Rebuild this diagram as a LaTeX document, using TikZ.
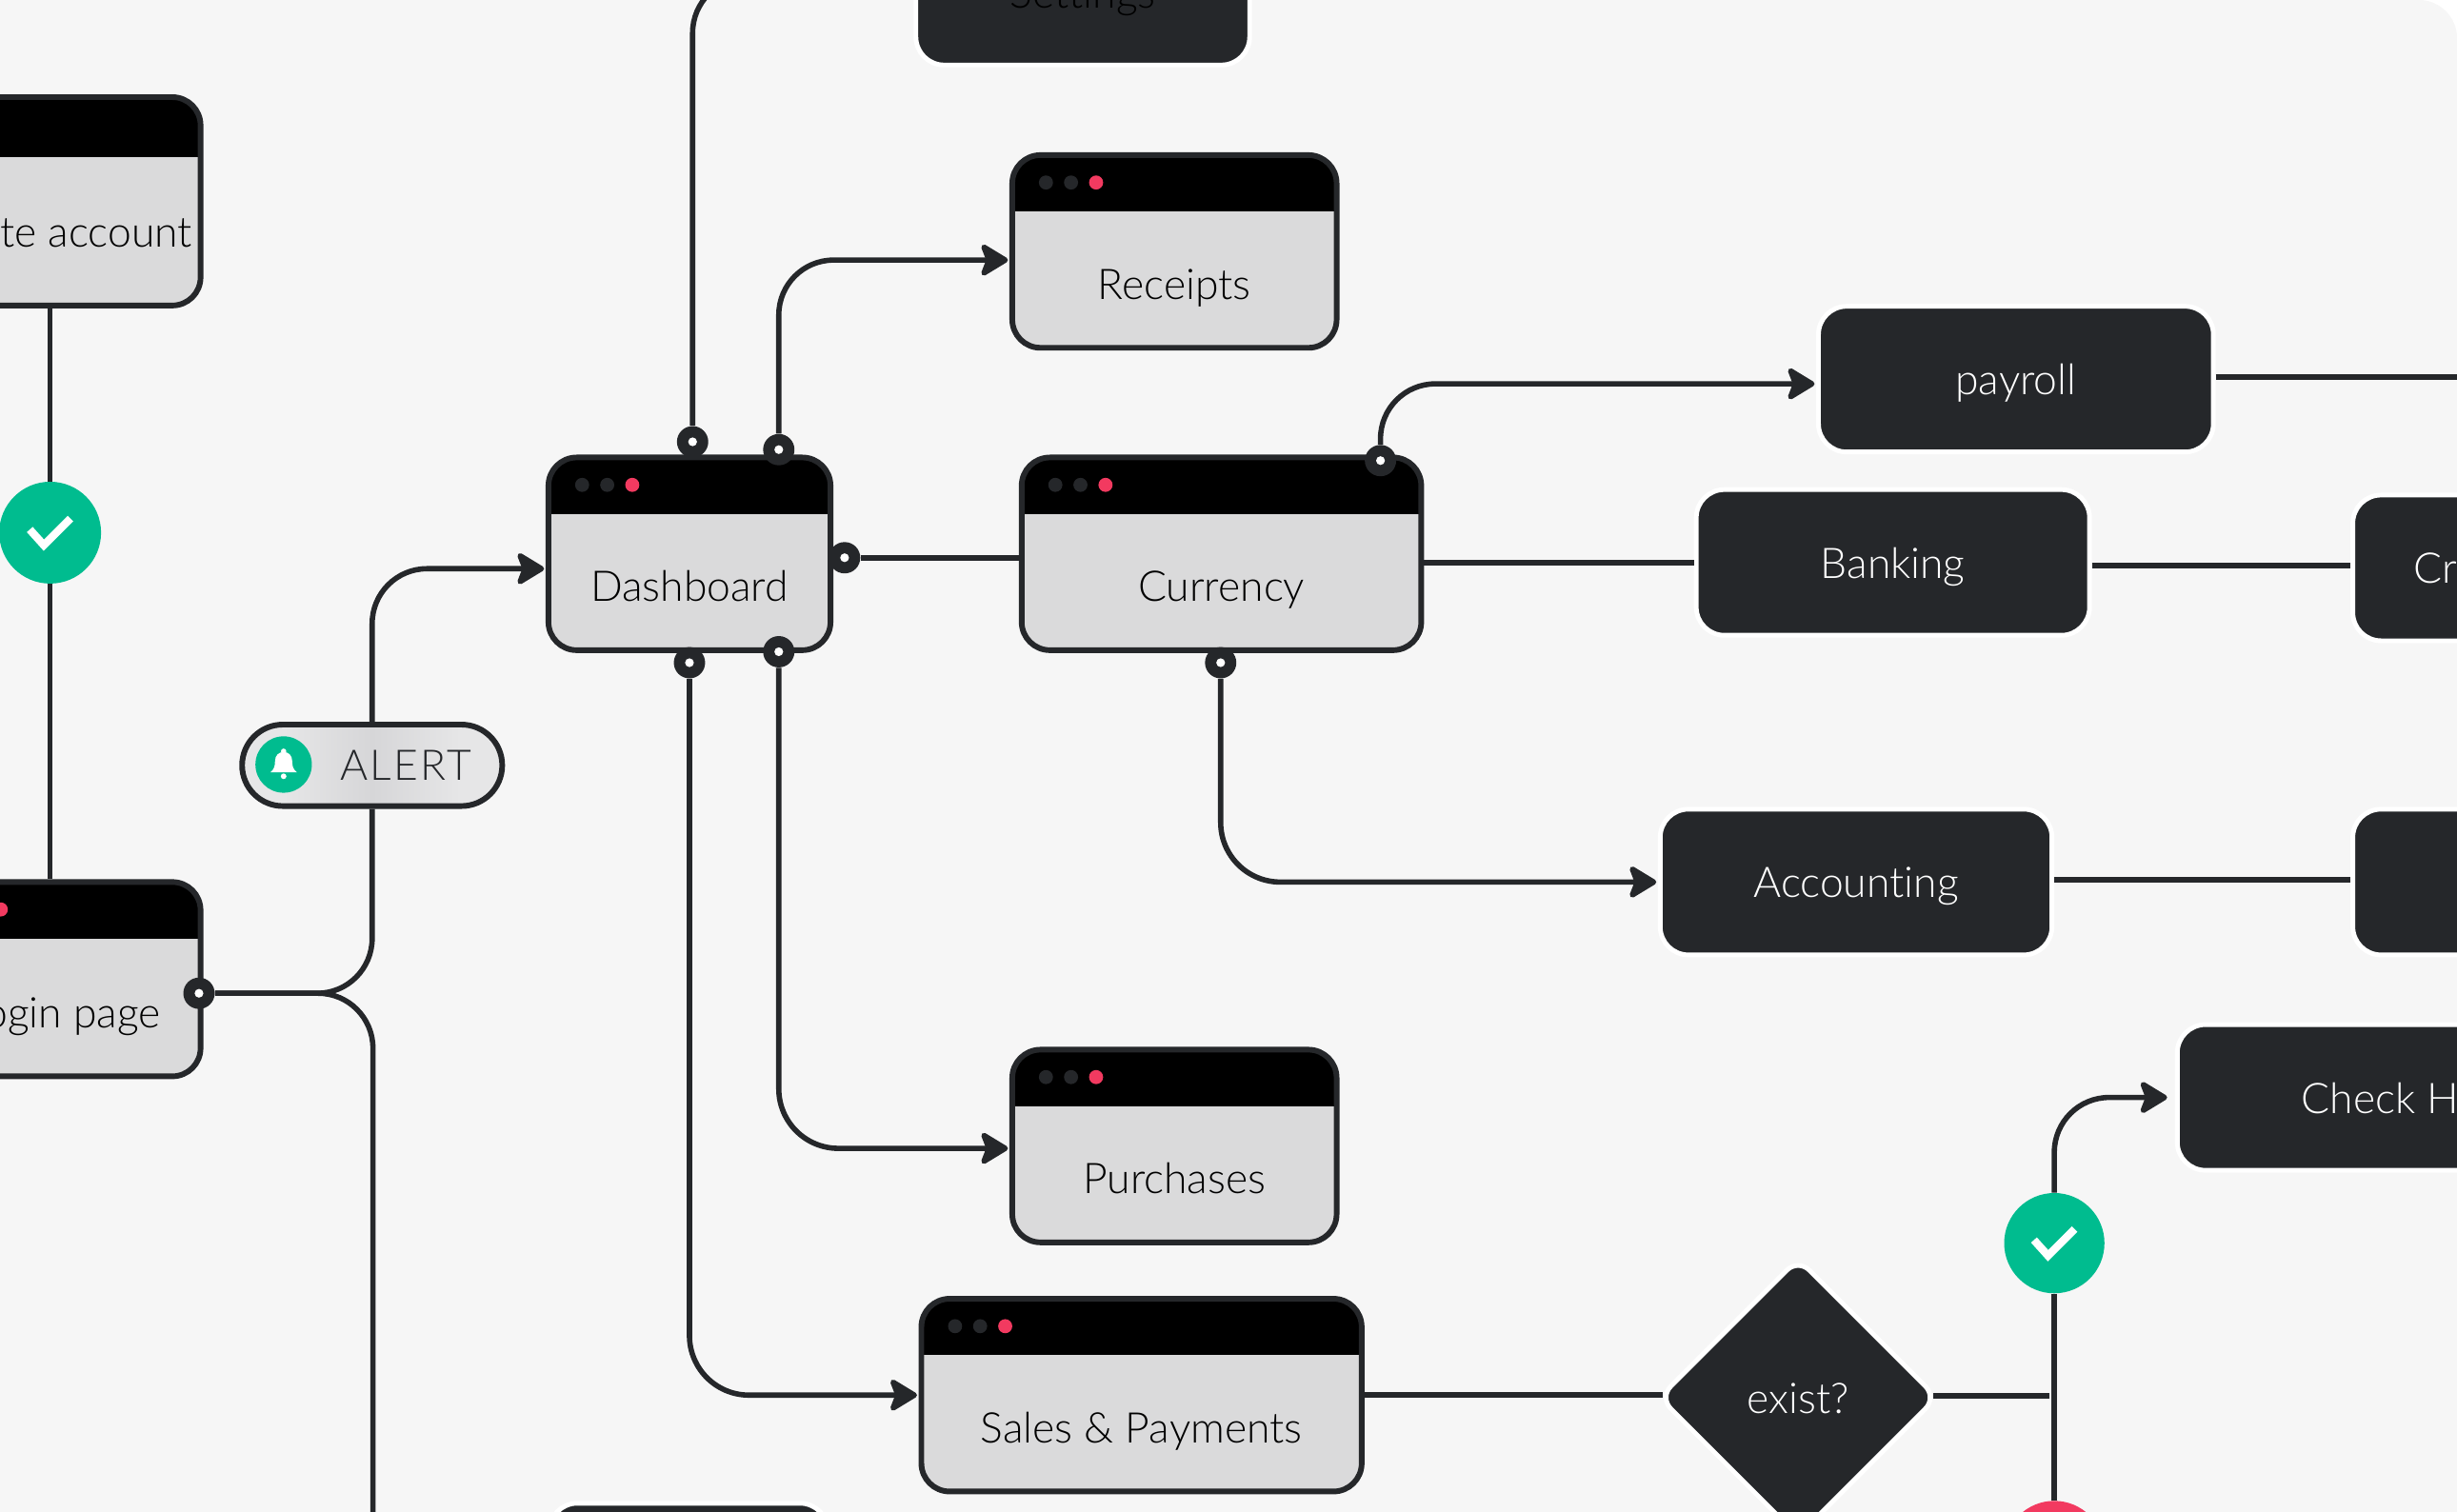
\documentclass[tikz,border=0pt]{standalone}
\usepackage{fontspec}
\setmainfont{Lato}[UprightFont={* Light}, Ligatures=NoCommon]
\usetikzlibrary{arrows.meta,shapes.geometric}
\definecolor{PageGrey}{HTML}{F6F6F6}
\definecolor{BodyGrey}{HTML}{DADADB}
\definecolor{PillGrey}{HTML}{E6E6E7}
\definecolor{PillMid}{HTML}{D6D6D8}
\definecolor{DarkGrey}{HTML}{25272A}
\definecolor{MintDot}{HTML}{00BC8F}
\definecolor{RedDot}{HTML}{F23A60}
\pgfdeclarehorizontalshading{PillShade}{100bp}{color(0bp)=(PillGrey); color(33bp)=(PillGrey); color(50bp)=(PillMid); color(67bp)=(PillGrey); color(100bp)=(PillGrey)}

\begin{document}
\begin{tikzpicture}[
                x=1pt, y=-1pt,
                every node/.style={font=\fontsize{27}{30}\selectfont, inner sep=0pt},
                Wire/.style={draw=DarkGrey, line width=3.4pt},
                ArrowWire/.style={Wire, rounded corners=35pt, shorten >=1pt, -{Stealth[length=20pt, width=24pt, inset=4.5pt, round]}},
                HeaderDepth/.store in=\HeaderDepth, HeaderDepth=36pt,
                WindowBox/.style={draw=DarkGrey, line width=3.6pt, fill=BodyGrey, rounded corners=18pt,
                    minimum height=123pt, text height=61pt, text depth=0pt, text=black,
                    path picture={
                        \fill[black, sharp corners] (path picture bounding box.north west) rectangle ([yshift=-\HeaderDepth]path picture bounding box.north east);
                        \fill[DarkGrey] ([shift={(21.5pt,-17.5pt)}]path picture bounding box.north west) circle[radius=4.5];
                        \fill[DarkGrey] ([shift={(37.5pt,-17.5pt)}]path picture bounding box.north west) circle[radius=4.5];
                        \fill[RedDot] ([shift={(53.5pt,-17.5pt)}]path picture bounding box.north west) circle[radius=4.5];
                    }},
                DarkBox/.style={draw=white, line width=3pt, fill=DarkGrey, rounded corners=18pt,
                    minimum height=93pt, text height=20pt, text depth=0pt, text=white},
                PortDot/.style={circle, fill=DarkGrey, minimum size=20pt,
                    path picture={\fill[white] (path picture bounding box.center) circle[radius=2.8];}},
                CheckDot/.style={circle, fill=MintDot, minimum size=65pt,
                    path picture={\draw[white, line width=5pt, shift={(path picture bounding box.center)}] (-13,-2) -- (-4,8) -- (13,-9);}},
            ]
            \useasboundingbox (0,0) rectangle (1568,965.1);
            \clip (0,0) rectangle (1568,965.1);
            \fill[PageGrey] (0,965.1) -- (0,0) -- (1544,0) .. controls (1557,0) and (1568,11) .. (1568,24) -- (1568,965.1) -- cycle;

            % windows
            \node [WindowBox, HeaderDepth=38pt, minimum width=187pt, minimum height=133pt, text height=59pt] (CreateAccount) at (34.5,128.5) {Create account};
            \node [WindowBox, minimum width=181pt, minimum height=124pt, text height=62pt] (LoginPage) at (37.5,625) {\hspace{5pt}Login page};
            \node [WindowBox, minimum width=180pt] (Dashboard) at (440,353.5) {Dashboard};
            \node [WindowBox, minimum width=255pt] (Currency) at (779.5,353.5) {Currency};
            \node [WindowBox, minimum width=207pt] (Receipts) at (749.5,160.5) {Receipts};
            \node [WindowBox, minimum width=207pt] (Purchases) at (749.5,731.5) {Purchases};
            \node [WindowBox, minimum width=281pt] (Sales) at (728.5,890.5) {Sales \& Payments};

            % dark boxes
            \node [DarkBox, minimum width=213pt, text=black] (Settings) at (691,-5) {Settings};
            \node [DarkBox, minimum width=252pt] (Payroll) at (1286.5,242) {payroll};
            \node [DarkBox, minimum width=251pt] (Banking) at (1208,359) {Banking};
            \node [DarkBox, minimum width=105pt] (CrBox) at (1554,362.5) {Cr};
            \node [DarkBox, minimum width=250pt] (Accounting) at (1184.5,563) {Accounting};
            \node [DarkBox, minimum width=251pt] (NextBox) at (1627,563) {};
            \node [DarkBox, minimum width=259pt] (CheckBox) at (1519,700.5) {Check H};
            \node [DarkBox, minimum width=178pt] (LowerBox) at (439.5,1006) {};
            \node [DarkBox, diamond, shape aspect=1, rounded corners=10pt, minimum width=178pt, minimum height=178pt] (Exist) at (1147.5,892) {exist?};

            % alert pill
            \node [draw=DarkGrey, line width=3.6pt, rounded corners=26pt, minimum width=166pt, minimum height=52pt,
                shading=PillShade, shading angle=0,
                font=\fontsize{27}{30}\selectfont\addfontfeatures{LetterSpace=5}, text=DarkGrey, text height=19pt, text depth=0pt] (AlertPill) at (237.5,488.5) {\hspace{43pt}ALERT};
            \node [circle, fill=MintDot, minimum size=36pt,
                path picture={
                    \fill[white, shift={(path picture bounding box.center)}]
                        (-8.5,5) .. controls (-6,3) and (-5.5,1) .. (-5.5,-2) .. controls (-5.5,-6) and (-3,-8) .. (0,-8)
                        .. controls (3,-8) and (5.5,-6) .. (5.5,-2) .. controls (5.5,1) and (6,3) .. (8.5,5) -- cycle
                        (0,-8.5) circle[radius=1.7] (0,7.5) circle[radius=1.8];
                }] (BellDot) at (181,488) {};

            % round markers
            \node [CheckDot] (CheckLogin) at (32,340) {};
            \node [CheckDot, minimum size=64pt] (CheckExist) at (1311,793.5) {};
            \node [circle, fill=RedDot, minimum size=64pt] (FailDot) at (1311,990) {};

            % ports
            \node [PortDot] (LoginPort) at (127,634) {};
            \node [PortDot] (DashTopA) at (442,282) {};
            \node [PortDot] (DashTopB) at (497,287) {};
            \node [PortDot] (DashBotA) at (440,423) {};
            \node [PortDot] (DashBotB) at (497,416) {};
            \node [PortDot] (DashRight) at (539,356) {};
            \node [PortDot] (CurrencyTop) at (881,294) {};
            \node [PortDot] (CurrencyBot) at (779,423) {};

            \coordinate (LowerEnd) at (238,980);
            \coordinate (PayrollEnd) at (1580,240.5);
            \coordinate (ExistJoin) at (1308,891);

            % connectors
            \draw [Wire] (CheckLogin |- CreateAccount.south) -- (CheckLogin);
            \draw [Wire] (CheckLogin) -- (CheckLogin |- LoginPage.north);
            \draw [Wire, rounded corners=35pt] (LoginPort) -| (AlertPill.south);
            \draw [Wire, rounded corners=35pt] (LoginPort) -| (LowerEnd);
            \draw [ArrowWire] (AlertPill.north) |- ([yshift=-9.5pt]Dashboard.west);
            \draw [ArrowWire] (DashTopA) |- ([yshift=9pt]Settings.west);
            \draw [ArrowWire] (DashTopB) |- ([yshift=-5.5pt]Receipts.west);
            \draw [ArrowWire, rounded corners=38pt] (DashBotA) |- (Sales.west);
            \draw [ArrowWire, rounded corners=38pt] (DashBotB) |- ([yshift=-1.5pt]Purchases.west);
            \draw [Wire] (DashRight) -- (DashRight -| Currency.west);
            \draw [ArrowWire] (CurrencyTop) |- ([yshift=-3pt]Payroll.west);
            \draw [ArrowWire, rounded corners=38pt] (CurrencyBot) |- (Accounting.west);
            \draw [Wire] (Currency.east |- Banking.west) -- (Banking.west);
            \draw [Wire] ([yshift=1.5pt]Banking.east |- CrBox.west) -- ([yshift=1.5pt]CrBox.west);
            \draw [Wire] ([yshift=1.5pt]Accounting.east) -- ([yshift=1.5pt]NextBox.west);
            \draw [Wire] (PayrollEnd -| Payroll.east) -- (PayrollEnd);
            \draw [Wire, shorten >=-4pt] (Sales.east) -- (Sales.east -| Exist.west);
            \draw [Wire, shorten <=-4pt] ([yshift=1pt]Exist.east) -- ([yshift=1pt]Exist.east -| ExistJoin);
            \draw [ArrowWire, shorten >=5pt] (CheckExist) |- (CheckBox.west);
            \draw [Wire] (CheckExist) -- (FailDot);
        \end{tikzpicture}
\end{document}
